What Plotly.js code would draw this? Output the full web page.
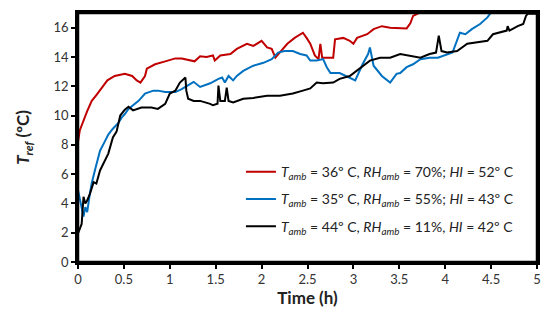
<!DOCTYPE html>
<html>
<head>
<meta charset="utf-8">
<script src="https://cdn.plot.ly/plotly-3.0.1.min.js"></script>
<style>
  html, body { margin: 0; padding: 0; background: #fff; }
  #chart { width: 550px; height: 319px; }
</style>
</head>
<body>
<div id="chart"></div>
<script>
// [time (h), T_ref (°C)]
const redPoints = [
  [0, 8.2], [0.02, 9.0], [0.1, 10.3], [0.15, 11.0], [0.2, 11.4], [0.26, 11.9], [0.32, 12.4],
  [0.4, 12.7], [0.51, 12.85], [0.59, 12.7], [0.64, 12.4], [0.68, 12.25], [0.73, 12.7],
  [0.75, 13.2], [0.84, 13.5], [0.95, 13.7], [1.06, 13.9], [1.13, 13.9], [1.22, 13.75],
  [1.27, 13.7], [1.33, 14.05], [1.4, 14.0], [1.47, 14.1], [1.49, 13.75], [1.55, 14.1],
  [1.66, 14.2], [1.73, 14.55], [1.84, 14.9], [1.91, 14.75], [2.0, 15.1], [2.06, 14.65],
  [2.11, 14.55], [2.15, 13.95], [2.2, 14.3], [2.28, 14.9], [2.36, 15.3], [2.45, 15.65],
  [2.49, 15.3], [2.53, 14.9], [2.58, 14.1], [2.62, 13.85], [2.64, 14.9], [2.66, 13.95],
  [2.71, 13.95], [2.78, 13.95], [2.8, 15.2], [2.89, 15.3], [2.96, 15.1], [3.0, 14.9],
  [3.04, 15.3], [3.15, 15.55], [3.22, 15.9], [3.31, 16.1], [3.4, 16.0], [3.51, 16.0],
  [3.58, 15.95], [3.62, 16.3], [3.65, 16.8], [3.7, 16.95], [3.74, 17.3]
];
const bluePoints = [
  [0, 4.9], [0.04, 3.75], [0.06, 3.1], [0.08, 3.75], [0.1, 3.4], [0.13, 4.7], [0.15, 5.4],
  [0.19, 6.4], [0.24, 7.6], [0.29, 8.2], [0.33, 8.7], [0.38, 9.1], [0.44, 9.5], [0.48, 9.9],
  [0.51, 10.1], [0.55, 10.45], [0.66, 11.0], [0.73, 11.5], [0.82, 11.7], [0.87, 11.7], [0.95, 11.6],
  [1.06, 11.6], [1.13, 11.8], [1.22, 12.15], [1.26, 12.3], [1.33, 11.95], [1.44, 12.2],
  [1.53, 12.5], [1.57, 12.6], [1.6, 12.25], [1.64, 12.7], [1.69, 12.4], [1.73, 12.7],
  [1.8, 13.05], [1.91, 13.4], [2.02, 13.6], [2.11, 13.85], [2.18, 14.3], [2.25, 14.4],
  [2.34, 14.4], [2.42, 14.2], [2.49, 14.1], [2.53, 13.75], [2.6, 13.75], [2.67, 13.85],
  [2.71, 13.3], [2.75, 12.9], [2.85, 12.9], [2.96, 12.6], [3.02, 12.4], [3.1, 13.5],
  [3.16, 14.2], [3.18, 14.65], [3.22, 13.4], [3.31, 12.7], [3.4, 12.25], [3.47, 12.85],
  [3.51, 12.9], [3.58, 13.3], [3.65, 13.5], [3.73, 13.85], [3.83, 13.95], [3.92, 13.95],
  [4.02, 14.2], [4.08, 14.3], [4.16, 15.65], [4.22, 15.55], [4.29, 15.9], [4.38, 16.25],
  [4.46, 16.7], [4.49, 16.95], [4.53, 17.3]
];
const blackPoints = [
  [0, 1.95], [0.04, 2.6], [0.06, 4.45], [0.08, 4.0], [0.1, 4.2], [0.13, 4.65], [0.17, 5.45],
  [0.2, 5.35], [0.24, 6.25], [0.29, 6.95], [0.33, 7.4], [0.38, 8.5], [0.42, 8.9],
  [0.46, 10.0], [0.51, 10.4], [0.55, 10.6], [0.6, 10.35], [0.69, 10.55], [0.8, 10.55],
  [0.87, 10.45], [0.95, 10.8], [1.0, 11.5], [1.06, 11.7], [1.11, 12.25], [1.17, 12.6],
  [1.18, 11.7], [1.2, 11.15], [1.26, 11.0], [1.33, 11.0], [1.44, 10.8], [1.47, 10.7],
  [1.52, 10.8], [1.53, 12.05], [1.55, 11.0], [1.6, 11.0], [1.62, 11.9], [1.64, 11.0],
  [1.69, 10.9], [1.8, 11.15], [1.91, 11.2], [2.06, 11.35], [2.2, 11.35], [2.34, 11.5],
  [2.45, 11.7], [2.53, 11.85], [2.6, 12.25], [2.67, 12.2], [2.78, 12.25], [2.85, 12.5],
  [2.96, 12.7], [3.07, 13.2], [3.18, 13.75], [3.29, 13.95], [3.4, 13.95], [3.51, 14.2],
  [3.62, 14.1], [3.73, 13.95], [3.83, 14.2], [3.9, 14.3], [3.93, 15.45], [3.96, 14.4],
  [4.02, 14.3], [4.13, 14.4], [4.24, 14.9], [4.35, 15.0], [4.46, 15.1], [4.52, 15.55],
  [4.67, 15.8], [4.68, 16.1], [4.7, 15.8], [4.79, 16.1], [4.85, 16.25], [4.88, 16.8],
  [4.9, 16.95], [5.0, 16.95]
];

const seriesNames = [
  '<i>T</i><sub><i>amb</i></sub> = 36º C, <i>RH</i><sub><i>amb</i></sub> = 70%; <i>HI</i> = 52º C',
  '<i>T</i><sub><i>amb</i></sub> = 35º C, <i>RH</i><sub><i>amb</i></sub> = 55%; <i>HI</i> = 43º C',
  '<i>T</i><sub><i>amb</i></sub> = 44º C, <i>RH</i><sub><i>amb</i></sub> = 11%, <i>HI</i> = 42º C'
];
const seriesColors = ['#C00000', '#0070C0', '#000000'];
const seriesPoints = [redPoints, bluePoints, blackPoints];

const traces = seriesPoints.map((pts, i) => ({
  x: pts.map(p => p[0]),
  y: pts.map(p => p[1]),
  name: seriesNames[i],
  legendgroup: 'g' + i,
  mode: 'lines',
  line: { color: seriesColors[i], width: 2 },
  type: 'scatter'
}));

const axisCommon = {
  showline: true,
  linecolor: '#000',
  linewidth: 2.5,
  mirror: true,
  showgrid: false,
  zeroline: false,
  ticks: 'outside',
  ticklen: 4,
  tickwidth: 2,
  tickcolor: '#000',
  tickfont: { size: 13, color: '#333' }
};

const layout = {
  width: 550,
  height: 319,
  margin: { l: 78, r: 13, t: 13, b: 57 },
  paper_bgcolor: '#fff',
  plot_bgcolor: '#fff',
  font: { family: 'Lato, "Open Sans", sans-serif', color: '#222' },
  showlegend: true,
  legend: {
    x: 0.355,
    y: 0.425,
    xanchor: 'left',
    yanchor: 'top',
    bgcolor: 'rgba(0,0,0,0)',
    font: { size: 14, color: '#222' },
    tracegroupgap: 6
  },
  xaxis: Object.assign({}, axisCommon, {
    range: [0, 5],
    dtick: 0.5,
    title: { text: '<b>Time (h)</b>', font: { size: 17, color: '#222' }, standoff: 6 }
  }),
  yaxis: Object.assign({}, axisCommon, {
    range: [0, 17],
    dtick: 2,
    title: { text: '<b><i>T</i><sub><i>ref</i></sub> (ºC)</b>', font: { size: 17, color: '#222' }, standoff: 20 }
  })
};

Plotly.newPlot('chart', traces, layout, { displayModeBar: false }).then(gd => {
  // make sure the top and right frame lines are drawn
  Plotly.relayout(gd, {
    shapes: [{
      type: 'rect', xref: 'paper', yref: 'paper', x0: 0, x1: 1, y0: 0, y1: 1,
      line: { color: '#000', width: 2.5 }, fillcolor: 'rgba(0,0,0,0)', layer: 'above'
    }]
  });
});
</script>
</body>
</html>
